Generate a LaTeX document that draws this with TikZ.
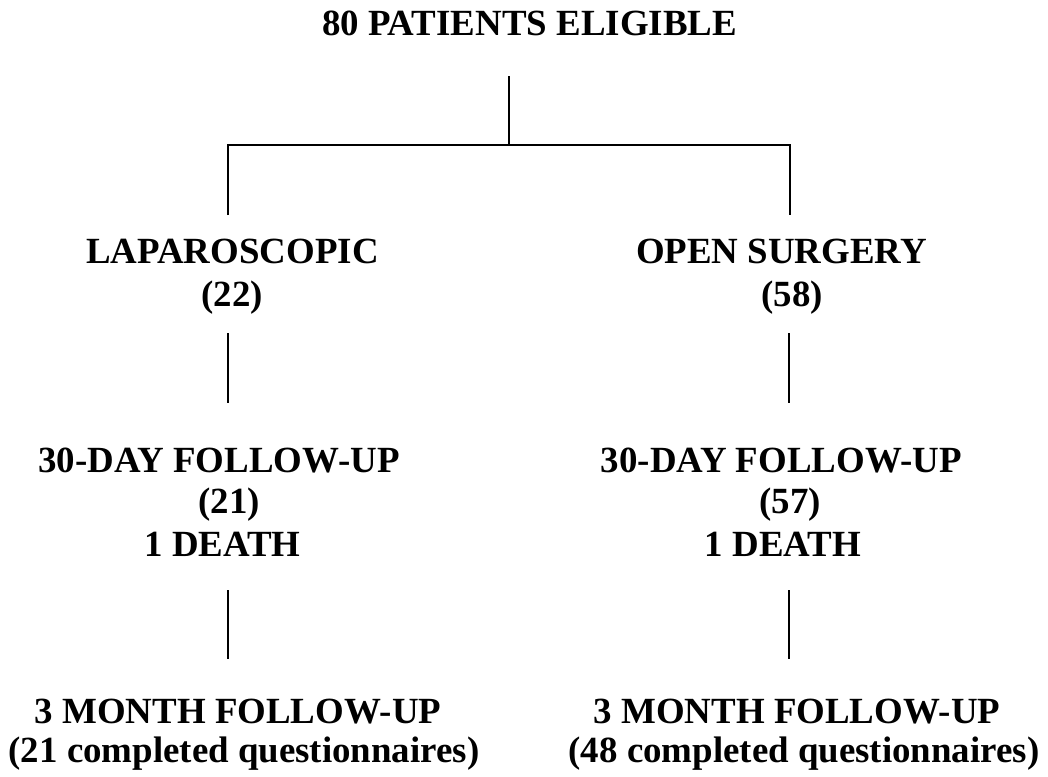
\documentclass[tikz,border=0pt]{standalone}
\usepackage{fontspec}
\setmainfont{Liberation Serif}
\begin{document}
\begin{tikzpicture}[x=1pt,y=-1pt,
  lbl/.style={anchor=base,inner sep=0pt,font=\fontsize{36.9}{41}\selectfont\bfseries},
  conn/.style={line width=2pt,black}]
\useasboundingbox[fill=white] (0,0) rectangle (1048,776);
% texts
\node[lbl] (title) at (529.5,36) {80 PATIENTS ELIGIBLE};
\node[lbl] (lap)   at (232.5,263) {LAPAROSCOPIC};
\node[lbl] (lapn)  at (232,306) {(22)};
\node[lbl] (open)  at (781.5,263) {OPEN SURGERY};
\node[lbl] (openn) at (792,306) {(58)};
\node[lbl] (fdl)   at (219,472) {30-DAY FOLLOW-UP};
\node[lbl] (fdln)  at (229,513) {(21)};
\node[lbl] (fdld)  at (222.5,556) {1 DEATH};
\node[lbl] (fdr)   at (781.5,472) {30-DAY FOLLOW-UP};
\node[lbl] (fdrn)  at (790,513) {(57)};
\node[lbl] (fdrd)  at (783,556) {1 DEATH};
\node[lbl] (tml)   at (238,723) {3 MONTH FOLLOW-UP};
\node[lbl] (tmlq)  at (244,762) {(21 completed questionnaires)};
\node[lbl] (tmr)   at (797,723) {3 MONTH FOLLOW-UP};
\node[lbl] (tmrq)  at (804,762) {(48 completed questionnaires)};
% connector end points
\coordinate (top) at (508.5,76);
\coordinate (hub) at (508.5,145);
\coordinate (lapin) at (228,215);
\coordinate (openin) at (790,215);
\coordinate (l1a) at (228,333);
\coordinate (l1b) at (228,403);
\coordinate (r1a) at (789,333);
\coordinate (r1b) at (789,403);
\coordinate (l2a) at (228,590);
\coordinate (l2b) at (228,659);
\coordinate (r2a) at (789,590);
\coordinate (r2b) at (789,659);
% connectors
\draw[conn] (top) -- (hub);
\draw[conn] (lapin) |- (hub) -| (openin);
\draw[conn] (l1a) -- (l1b);
\draw[conn] (r1a) -- (r1b);
\draw[conn] (l2a) -- (l2b);
\draw[conn] (r2a) -- (r2b);
\end{tikzpicture}
\end{document}
